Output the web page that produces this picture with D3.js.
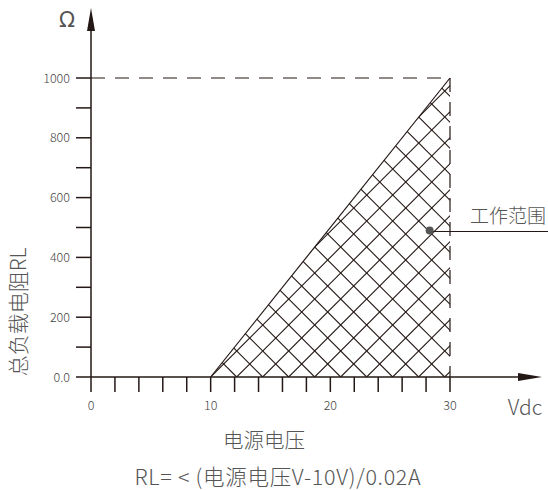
<!DOCTYPE html>
<html><head><meta charset="utf-8">
<script src="https://cdn.jsdelivr.net/npm/d3@7"></script>
<style>body{margin:0;background:#fff}svg{display:block}</style>
</head><body>
<svg id="c" width="548" height="490"></svg>
<script>
const xTicksMajor = [0, 10, 20, 30];
const xTicksMinor = [0,2,4,6,8,10,12,14,16,18,20,22,24,26,28,30];
const yTickLabels = ["0.0","200","400","600","800","1000"];
const yTicksMajor = [0,200,400,600,800,1000];
const yTicksMinor = [100,300,500,700,900];
const regionV = [10, 30, 30];
const regionR = [0, 1000, 0];
const markerPoint = {v: 28.3, r: 490};
const labelText = "工作范围";
const xTitle = "电源电压";
const yTitle = "总负载电阻RL";
const formula = "RL= < (电源电压V-10V)/0.02A";

const svg = d3.select("#c");
const x = d3.scaleLinear().domain([0,30]).range([91,450]);
const y = d3.scaleLinear().domain([0,1000]).range([377,78]);
const ink = "#231815", txt = "#555";
const font = "'Noto Sans CJK SC','Noto Sans',sans-serif";

const pts = regionV.map((v,i)=>[x(v), y(regionR[i])]);
const defs = svg.append("defs");
defs.append("clipPath").attr("id","tri").append("path").attr("d", d3.line()(pts)+"Z");

// hatch lines
const hg = svg.append("g").attr("clip-path","url(#tri)");
const x0 = x(10), yb = y(0), step = 26;
const hatch = [];
for (let k = -20; k <= 30; k++) {
  const c = x0 + k*step;
  hatch.push([[c, yb], [c + 400, yb - 400]]);
  hatch.push([[c, yb], [c - 400, yb - 400]]);
}
hg.selectAll("line").data(hatch).enter().append("line")
  .attr("x1",d=>d[0][0]).attr("y1",d=>d[0][1]).attr("x2",d=>d[1][0]).attr("y2",d=>d[1][1])
  .attr("stroke",ink).attr("stroke-width",1.1);

svg.append("line").attr("x1",pts[0][0]).attr("y1",pts[0][1]).attr("x2",pts[1][0]).attr("y2",pts[1][1])
  .attr("stroke",ink).attr("stroke-width",1.2);

// dashed limits
svg.append("line").attr("x1",x(0)).attr("x2",x(30)).attr("y1",y(1000)).attr("y2",y(1000))
  .attr("stroke",ink).attr("stroke-width",1.2).attr("stroke-dasharray","14,10");
svg.append("line").attr("x1",x(30)).attr("x2",x(30)).attr("y1",y(1000)).attr("y2",y(0))
  .attr("stroke",ink).attr("stroke-width",1.2).attr("stroke-dasharray","14,10");

// x axis
svg.append("line").attr("x1",x(0)).attr("x2",525).attr("y1",y(0)).attr("y2",y(0)).attr("stroke",ink).attr("stroke-width",1.5);
svg.append("path").attr("d","M542,"+y(0)+" L518,"+(y(0)-4)+" L518,"+(y(0)+4)+"Z").attr("fill",ink);
svg.selectAll(".xt").data(xTicksMinor).enter().append("line")
  .attr("x1",d=>x(d)).attr("x2",d=>x(d)).attr("y1",y(0)).attr("y2",y(0)+15).attr("stroke",ink).attr("stroke-width",1.5);
svg.selectAll(".xl").data(xTicksMajor).enter().append("text")
  .attr("x",d=>x(d)).attr("y",410).attr("text-anchor","middle").attr("font-size",12.5).attr("font-weight",300)
  .attr("font-family",font).attr("fill","#444").text(d=>d);

// y axis
svg.append("line").attr("x1",x(0)).attr("x2",x(0)).attr("y1",y(0)).attr("y2",25).attr("stroke",ink).attr("stroke-width",1.5);
svg.append("path").attr("d","M91,8 L87,31 L95,31Z").attr("fill",ink);
svg.selectAll(".yt").data(yTicksMajor.concat(yTicksMinor)).enter().append("line")
  .attr("x1",x(0)-15).attr("x2",x(0)).attr("y1",d=>y(d)).attr("y2",d=>y(d)).attr("stroke",ink).attr("stroke-width",1.5);
svg.selectAll(".yl").data(yTicksMajor).enter().append("text")
  .attr("x",70).attr("y",d=>y(d)+4.5).attr("text-anchor","end").attr("font-size",12.5).attr("font-weight",300)
  .attr("font-family",font).attr("fill","#444").text((d,i)=>yTickLabels[i]);

// unit labels
svg.append("text").attr("x",67).attr("y",27).attr("text-anchor","middle").attr("font-size",21)
  .attr("font-family","'DejaVu Sans',sans-serif").attr("fill",txt).text("Ω");
svg.append("text").attr("x",525).attr("y",415).attr("text-anchor","middle").attr("font-size",21).attr("font-weight",300)
  .attr("font-family",font).attr("fill",txt).text("Vdc");

// marker
svg.append("line").attr("x1",x(markerPoint.v)).attr("x2",548).attr("y1",y(markerPoint.r)+1).attr("y2",y(markerPoint.r)+1)
  .attr("stroke",ink).attr("stroke-width",1.2);
svg.append("circle").attr("cx",x(markerPoint.v)).attr("cy",y(markerPoint.r)).attr("r",4).attr("fill","#555");
svg.append("text").attr("x",470).attr("y",223).attr("font-size",19).attr("font-weight",300).attr("font-family",font)
  .attr("fill",txt).text(labelText);

// titles
svg.append("text").attr("transform","translate(26,312) rotate(-90)").attr("text-anchor","middle")
  .attr("font-size",21).attr("font-weight",300).attr("font-family",font).attr("fill",txt).text(yTitle);
svg.append("text").attr("x",264).attr("y",448).attr("text-anchor","middle")
  .attr("font-size",20.5).attr("font-weight",300).attr("font-family",font).attr("fill",txt).text(xTitle);
svg.append("text").attr("x",278).attr("y",485).attr("text-anchor","middle")
  .attr("font-size",21.5).attr("font-weight",300).attr("letter-spacing",0.7).attr("font-family",font).attr("fill",txt).text(formula);
</script>
</body></html>
